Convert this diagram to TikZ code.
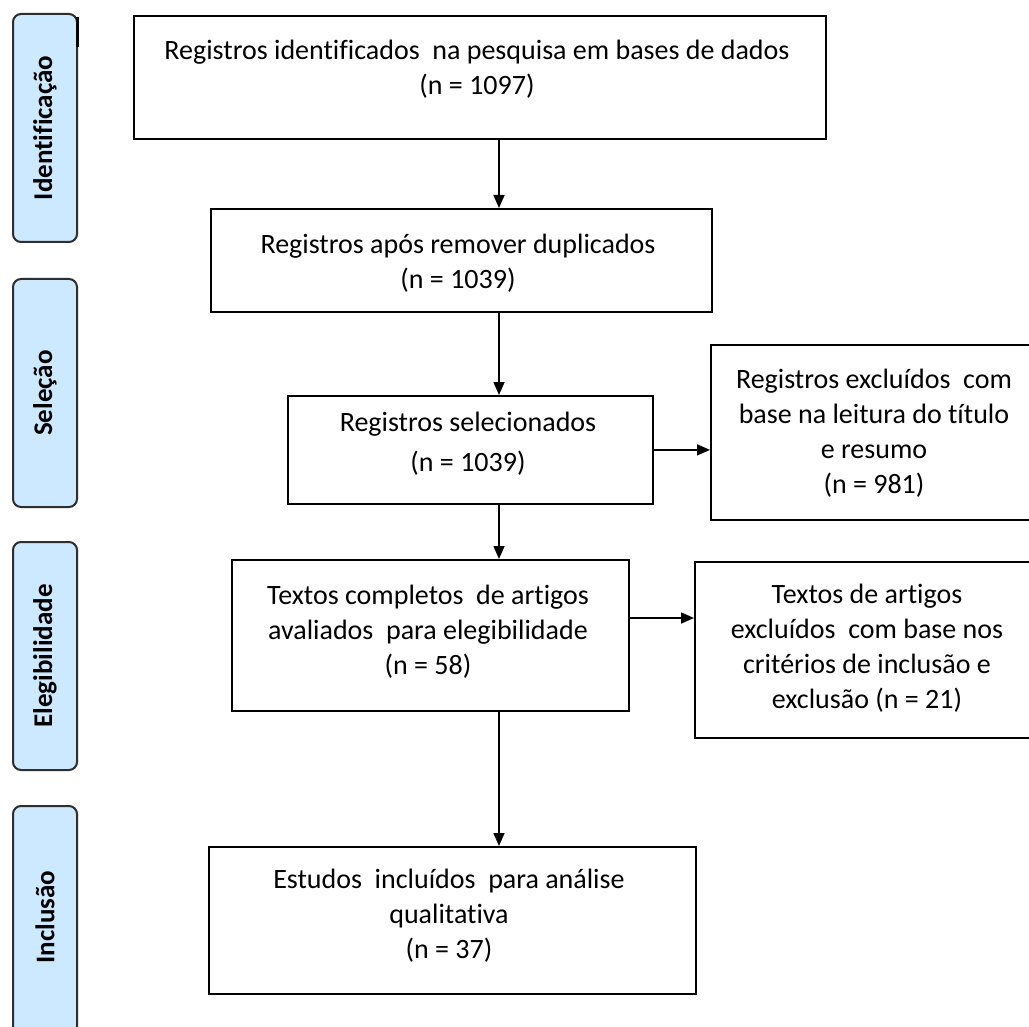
\documentclass[tikz,border=0pt]{standalone}
\usepackage{fontspec}
\setmainfont{Carlito}[Ligatures={NoCommon,NoContextual,NoRare},RawFeature={-liga;-clig;-dlig;-calt}]
\usetikzlibrary{arrows.meta,calc}
\definecolor{barfill}{HTML}{CCE9FF}
\definecolor{barline}{HTML}{2E2E2E}
\begin{document}
\begin{tikzpicture}[x=1pt,y=-1pt,
  box/.style={draw=black,line width=1.8pt,inner sep=0pt,anchor=north west,fill=white},
  bar/.style={draw=barline,line width=2pt,fill=barfill,rounded corners=8pt,inner sep=0pt,anchor=north west,minimum width=64pt,minimum height=228pt},
  bartext/.style={rotate=90,font=\fontsize{27}{32}\bfseries\selectfont,inner sep=0pt},
  txt/.style={anchor=north,inner sep=0pt,align=center,font=\fontsize{28}{35}\selectfont},
  arr/.style={line width=1.6pt,-{Triangle[length=13pt,width=11pt]}}]
\clip (0,0) rectangle (1029,1027);
\fill[white] (0,0) rectangle (1029,1027);

% side bars
\node[bar] (s1) at (12,13) {};
\node[bar] (s2) at (12,278) {};
\node[bar] (s3) at (12,541) {};
\node[bar] (s4) at (12,805) {};
\node[bartext] (s1t) at (s1.center) {Identificação};
\node[bartext] (s2t) at (s2.center) {Seleção};
\node[bartext] (s3t) at (s3.center) {Elegibilidade};
\node[bartext] (s4t) at ($(s4.center)+(0,-3)$) {Inclusão};
\draw[line width=3pt] (77.5,17) -- (77.5,47);

% boxes
\node[box,minimum width=692pt,minimum height=123pt] (b1) at (133,15) {};
\node[box,minimum width=501pt,minimum height=103pt] (b2) at (210,208) {};
\node[box,minimum width=365pt,minimum height=108pt] (b3) at (287,395) {};
\node[box,minimum width=328pt,minimum height=175pt] (r1) at (710,344) {};
\node[box,minimum width=397pt,minimum height=151pt] (b4) at (231,559) {};
\node[box,minimum width=346pt,minimum height=176pt] (r2) at (694,561) {};
\node[box,minimum width=487pt,minimum height=147pt] (b5) at (208,846) {};

% texts (first baseline = y + 25)
\node[txt] (b1t) at (477,34) {\rule{0pt}{25pt}Registros identificados\ \ na pesquisa em bases de dados\\(n = 1097)};
\node[txt] (b2t) at (458,228) {\rule{0pt}{25pt}Registros após remover duplicados\\(n = 1039)};
\node[txt,font=\fontsize{28}{40}\selectfont] (b3t) at (468,406) {\rule{0pt}{25pt}Registros selecionados\\(n = 1039)};
\node[txt] (r1t) at (874,363) {\rule{0pt}{25pt}Registros excluídos\ \ com\\base na leitura do título\\e resumo\\(n = 981)};
\node[txt] (b4t) at (428,579) {\rule{0pt}{25pt}Textos completos\ \ de artigos\\avaliados\ \ para elegibilidade\\(n = 58)};
\node[txt] (r2t) at (867,578) {\rule{0pt}{25pt}Textos de artigos\\excluídos\ \ com base nos\\critérios de inclusão e\\exclusão (n = 21)};
\node[txt] (b5t) at (449,863) {\rule{0pt}{25pt}Estudos\ \ incluídos\ \ para análise\\qualitativa\\(n = 37)};

% connectors
\coordinate (ax) at (499,0);
\coordinate (ay2) at (0,618);
\draw[arr] (b1.south -| ax) -- (b2.north -| ax);
\draw[arr] (b2.south -| ax) -- (b3.north -| ax);
\draw[arr] (b3.south -| ax) -- (b4.north -| ax);
\draw[arr] (b4.south -| ax) -- (b5.north -| ax);
\draw[arr] (b3.east) -- (b3.east -| r1.west);
\draw[arr] (b4.east |- ay2) -- (r2.west |- ay2);
\end{tikzpicture}
\end{document}
